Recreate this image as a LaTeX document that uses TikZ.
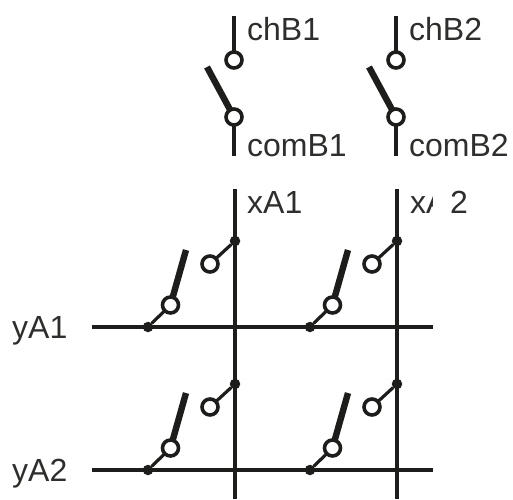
\documentclass[tikz,border=0pt]{standalone}
\usepackage{fontspec}
\setmainfont{Liberation Sans}
\definecolor{ink}{HTML}{1D1D1B}
\definecolor{txt}{HTML}{2E2E2C}
\tikzset{
  contact/.style={circle,draw=ink,fill=white,line width=3.6pt,minimum size=16pt,inner sep=0pt,outer sep=0pt},
  junction/.style={circle,fill=ink,minimum size=10.5pt,inner sep=0pt,outer sep=0pt},
  wire/.style={draw=ink,line width=3.6pt},
  bus/.style={draw=ink,line width=4.6pt},
  stub/.style={draw=ink,line width=3.2pt},
  lever/.style={draw=ink,line width=6.4pt},
  label/.style={anchor=base west,inner sep=0pt,text=txt,font=\fontsize{32}{34}\selectfont},
}
\begin{document}
\begin{tikzpicture}[x=1pt,y=-1pt]
\useasboundingbox (0,0) rectangle (513,499);
% top switches
\foreach \n/\x/\lx in {1/234/207,2/396/369}{
  \coordinate (tch\n) at (\x,16);
  \coordinate (bch\n) at (\x,156);
  \coordinate (lev\n) at (\lx,67);
  \node[contact] (cu\n) at (\x,60) {};
  \node[contact] (cl\n) at (\x,117) {};
  \draw[wire] (tch\n) -- (cu\n);
  \draw[wire] (cl\n) -- (bch\n);
  \draw[lever] (lev\n) -- (cl\n);
}
% matrix lines
\foreach \n/\x in {1/235,2/397}{
  \coordinate (xt\n) at (\x,189);
  \coordinate (xb\n) at (\x,499);
  \draw[bus,line width=4.2pt] (xt\n) -- (xb\n);
}
\foreach \n/\y in {1/327,2/470}{
  \coordinate (yl\n) at (92,\y);
  \coordinate (yr\n) at (433,\y);
  \draw[bus] (yl\n) -- (yr\n);
}
% crosspoints
\foreach \r/\y in {1/0,2/143}{
  \foreach \c/\dx in {1/0,2/162}{
    \node[junction] (ja\r\c) at ({235+\dx},{241+\y}) {};
    \node[junction] (jb\r\c) at ({148+\dx},{327+\y}) {};
    \node[contact] (ca\r\c) at ({210+\dx},{264+\y}) {};
    \node[contact] (cb\r\c) at ({170.5+\dx},{305+\y}) {};
    \coordinate (lv\r\c) at ({186+\dx},{250+\y});
    \draw[stub] (ja\r\c) -- (ca\r\c);
    \draw[stub] (jb\r\c) -- (cb\r\c);
    \draw[lever] (lv\r\c) -- (cb\r\c);
  }
}
% labels
\node[label] (lchB1) at (247,40) {chB1};
\node[label] (lchB2) at (409,40) {chB2};
\node[label] (lcomB1) at (247,156) {comB1};
\node[label] (lcomB2) at (409,156) {comB2};
\node[label] (lxA1) at (247,213) {xA1};
\node[label] (lxA2) at (410,213) {xA\kern2.5pt 2};
\fill[white] (433.3,186) rectangle (449.5,218);
\node[label] (lyA1) at (12,338) {yA1};
\node[label] (lyA2) at (12,481) {yA2};
\end{tikzpicture}
\end{document}
